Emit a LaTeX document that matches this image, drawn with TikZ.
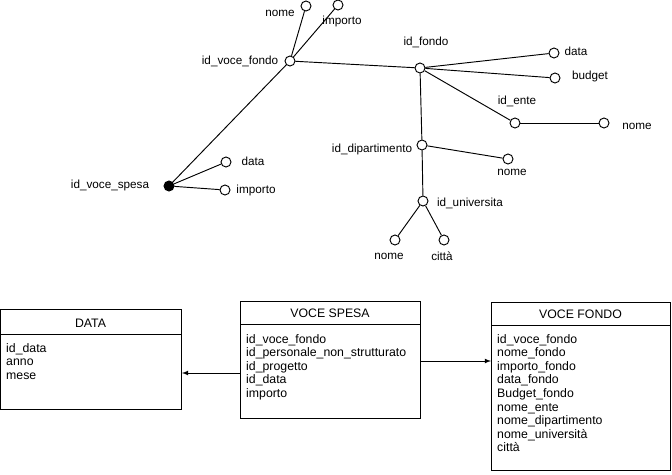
\documentclass[tikz,border=0pt]{standalone}
\usepackage{fontspec}
\setmainfont{Liberation Sans}
\usetikzlibrary{arrows}

\begin{document}
\begin{tikzpicture}[>=latex, x=0.03cm, y=-0.03cm]
			\tikzstyle{attr} = [draw, thick, circle, fill=white, minimum size=3mm, inner sep=0pt]
			\tikzstyle{key} = [draw, thick, circle, fill=black, minimum size=3mm, inner sep=0pt]
			\tikzstyle{lbl} = [inner sep=0pt, font=\fontsize{10}{12}\selectfont]
			\tikzstyle{tbl} = [draw, thick, anchor=north west, inner sep=0pt]
			\tikzstyle{ttl} = [inner sep=0pt, font=\fontsize{10.5}{12}\selectfont]
			\tikzstyle{rows} = [inner sep=0pt, anchor=north west, align=left, font=\fontsize{10.5}{11.6}\selectfont]

			\useasboundingbox (0,0) rectangle (672,474);

			% schema ad albero
			\node[attr] (vf) at (290,61) {};
			\node[attr] (vfnome) at (306,6) {};
			\node[attr] (vfimp) at (338,5) {};
			\node[attr] (fondo) at (420,68) {};
			\node[attr] (fdata) at (554,53) {};
			\node[attr] (fbudget) at (555,78) {};
			\node[attr] (ente) at (515,123) {};
			\node[attr] (entenome) at (604,123) {};
			\node[attr] (dip) at (422,145) {};
			\node[attr] (dipnome) at (508,159) {};
			\node[attr] (univ) at (423,201) {};
			\node[attr] (univnome) at (395,240) {};
			\node[attr] (univcitta) at (444,240) {};
			\node[key] (vs) at (169,186) {};
			\node[attr] (vsdata) at (226,162) {};
			\node[attr] (vsimp) at (225,190) {};

			\node[lbl] at (240,61) {id\_voce\_fondo};
			\node[lbl] at (280,13) {nome};
			\node[lbl] at (342,21) {importo};
			\node[lbl] at (426,42) {id\_fondo};
			\node[lbl] at (576,51) {data};
			\node[lbl] at (590,76) {budget};
			\node[lbl] at (517,101) {id\_ente};
			\node[lbl] at (637,126) {nome};
			\node[lbl] at (372,149) {id\_dipartimento};
			\node[lbl] at (512,172) {nome};
			\node[lbl] at (470,203) {id\_universita};
			\node[lbl] at (389,256) {nome};
			\node[lbl] at (442,256) {città};
			\node[lbl] at (110,185) {id\_voce\_spesa};
			\node[lbl] at (253,161) {data};
			\node[lbl] at (256,190) {importo};

			\path[thick]
			(vs) edge (vf)
			(vs) edge (vsdata)
			(vs) edge (vsimp)
			(vf) edge (vfnome)
			(vf) edge (vfimp)
			(vf) edge (fondo)
			(fondo) edge (fdata)
			(fondo) edge (fbudget)
			(fondo) edge (ente)
			(fondo) edge (dip)
			(ente) edge (entenome)
			(dip) edge (dipnome)
			(dip) edge (univ)
			(univ) edge (univnome)
			(univ) edge (univcitta)
			;

			% tabelle
			\node[tbl, minimum width=5.43cm, minimum height=3cm] (data) at (0,309) {};
			\draw[thick] (0,334) -- (181,334);
			\node[ttl] at (90.5,323) {DATA};
			\node[rows] at (6,343) {id\_data\\anno\\mese};

			\node[tbl, minimum width=5.4cm, minimum height=3.51cm] (spesa) at (240,301) {};
			\draw[thick] (240,324) -- (420,324);
			\node[ttl] at (330,313) {VOCE SPESA};
			\node[rows] at (246,334) {id\_voce\_fondo\\id\_personale\_non\_strutturato\\id\_progetto\\id\_data\\importo};

			\node[tbl, minimum width=5.37cm, minimum height=5.04cm] (vfondo) at (491,302) {};
			\draw[thick] (491,325) -- (670,325);
			\node[ttl] at (580.5,314) {VOCE FONDO};
			\node[rows] at (497,334) {id\_voce\_fondo\\nome\_fondo\\importo\_fondo\\data\_fondo\\Budget\_fondo\\nome\_ente\\nome\_dipartimento\\nome\_università\\città};

			\draw[->, thick] (spesa.west |- 0,373) -- (data.east |- 0,373);
			\draw[->, thick] (spesa.east |- 0,361) -- (vfondo.west |- 0,361);
\end{tikzpicture}
\end{document}
